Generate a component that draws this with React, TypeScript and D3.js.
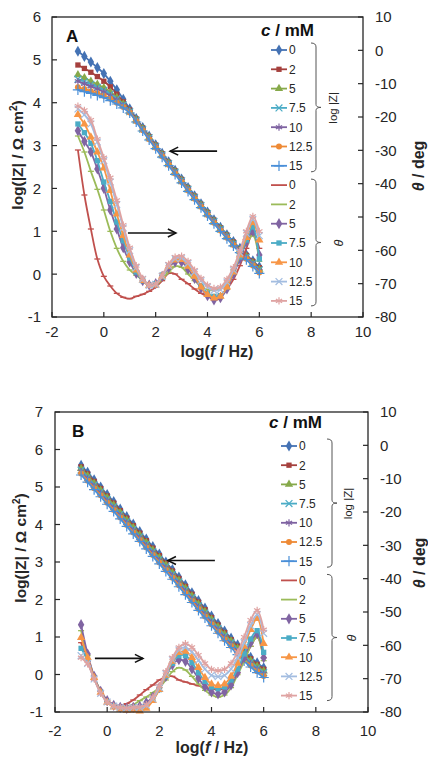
import React from 'react';
import * as d3 from 'd3';

// ---------- data ----------
const logF = [-1, -0.75, -0.5, -0.25, 0, 0.25, 0.5, 0.75, 1, 1.25, 1.5, 1.75, 2, 2.25, 2.5, 2.75, 3, 3.25, 3.5, 3.75, 4, 4.25, 4.5, 4.75, 5, 5.25, 5.5, 5.75, 6];
const concLabels = ['0', '2', '5', '7.5', '10', '12.5', '15'];
const leftTicksA = [-1, 0, 1, 2, 3, 4, 5, 6];
const leftTicksB = [-1, 0, 1, 2, 3, 4, 5, 6, 7];
const thetaTicks = [-80, -70, -60, -50, -40, -30, -20, -10, 0, 10];
const freqTicks = [-2, 0, 2, 4, 6, 8, 10];

// Panel A: log|Z| (log Ω cm²)
const zA0 = [5.2, 5.08, 4.95, 4.82, 4.68, 4.5, 4.3, 4.08, 3.86, 3.63, 3.42, 3.22, 3.02, 2.82, 2.62, 2.42, 2.22, 2.02, 1.83, 1.64, 1.45, 1.27, 1.09, 0.92, 0.76, 0.6, 0.45, 0.31, 0.17];
const zA2 = [4.88, 4.8, 4.71, 4.61, 4.5, 4.37, 4.2, 4.02, 3.83, 3.62, 3.41, 3.21, 3.01, 2.81, 2.61, 2.41, 2.21, 2.01, 1.82, 1.63, 1.44, 1.26, 1.08, 0.91, 0.75, 0.59, 0.44, 0.3, 0.15];
const zA5 = [4.65, 4.58, 4.5, 4.43, 4.35, 4.24, 4.12, 3.97, 3.8, 3.6, 3.39, 3.19, 2.99, 2.79, 2.59, 2.39, 2.19, 1.99, 1.8, 1.61, 1.42, 1.24, 1.06, 0.89, 0.72, 0.56, 0.41, 0.26, 0.11];
const zA7 = [4.55, 4.49, 4.43, 4.36, 4.29, 4.2, 4.09, 3.95, 3.79, 3.59, 3.38, 3.18, 2.98, 2.78, 2.58, 2.38, 2.18, 1.98, 1.79, 1.6, 1.41, 1.23, 1.05, 0.88, 0.71, 0.55, 0.4, 0.25, 0.1];
const zA10 = [4.5, 4.44, 4.38, 4.32, 4.25, 4.16, 4.06, 3.93, 3.78, 3.58, 3.37, 3.17, 2.97, 2.77, 2.57, 2.37, 2.17, 1.97, 1.78, 1.59, 1.4, 1.22, 1.04, 0.87, 0.7, 0.54, 0.38, 0.23, 0.07];
const zA12 = [4.36, 4.32, 4.27, 4.22, 4.16, 4.09, 4.0, 3.9, 3.77, 3.57, 3.36, 3.15, 2.95, 2.75, 2.55, 2.35, 2.15, 1.95, 1.76, 1.57, 1.38, 1.2, 1.02, 0.85, 0.68, 0.52, 0.36, 0.2, 0.04];
const zA15 = [4.3, 4.26, 4.22, 4.17, 4.12, 4.05, 3.97, 3.88, 3.76, 3.55, 3.34, 3.13, 2.93, 2.73, 2.53, 2.33, 2.13, 1.93, 1.74, 1.55, 1.36, 1.18, 1.0, 0.83, 0.66, 0.5, 0.34, 0.18, 0.02];

// Panel A: phase angle θ (deg)
const thA0 = [-29.9, -43.4, -53.6, -62.6, -67.8, -70.7, -72.9, -74.1, -74.5, -73.8, -73.2, -72.3, -71.0, -69.1, -66.9, -67.1, -68.7, -70.0, -71.6, -72.9, -73.8, -74.1, -73.3, -71.6, -68.7, -64.6, -59.4, -54.9, -59.4];
const thA2 = [-25.7, -30.5, -36.3, -41.7, -47.9, -54.3, -59.4, -63.3, -65.9, -67.5, -68.9, -70.2, -70.4, -68.7, -66.5, -64.8, -65.1, -67.1, -69.1, -70.7, -71.8, -72.0, -71.3, -69.1, -65.9, -62.0, -57.9, -55.6, -63.3];
const thA5 = [-24.1, -27.3, -30.5, -35.6, -41.4, -47.9, -53.6, -59.2, -63.5, -66.9, -69.1, -70.4, -70.0, -67.8, -65.2, -63.5, -63.5, -65.6, -68.4, -71.3, -73.6, -74.9, -74.2, -71.6, -67.1, -62.6, -57.5, -54.3, -61.4];
const thA7 = [-22.1, -24.7, -27.9, -33.1, -39.5, -45.3, -51.5, -57.1, -62.3, -66.5, -69.1, -70.5, -70.0, -67.4, -64.6, -62.5, -62.5, -64.6, -67.8, -70.7, -72.9, -73.8, -73.6, -71.0, -66.5, -62.0, -56.9, -53.0, -62.6];
const thA10 = [-19.3, -22.1, -26.0, -30.5, -35.3, -42.1, -49.1, -55.6, -61.4, -65.9, -69.1, -70.6, -70.4, -67.8, -64.8, -62.9, -62.8, -64.8, -67.8, -71.0, -73.3, -74.3, -73.8, -71.0, -66.5, -61.4, -56.2, -51.7, -56.9];
const thA12 = [-17.6, -19.3, -22.1, -27.5, -33.1, -39.5, -46.3, -53.3, -60.1, -65.2, -68.7, -70.5, -70.2, -67.8, -64.6, -62.5, -62.3, -63.9, -66.5, -69.1, -71.0, -72.0, -71.8, -69.5, -65.9, -60.7, -54.9, -50.7, -55.6];
const thA15 = [-16.7, -18.0, -20.9, -26.6, -32.2, -38.2, -45.0, -52.4, -59.2, -64.6, -68.4, -70.4, -70.1, -67.4, -64.1, -62.0, -61.7, -63.3, -65.9, -68.4, -70.4, -71.4, -71.0, -68.7, -65.2, -60.1, -54.3, -49.8, -54.3];

// Panel B: log|Z|
const zB0 = [5.58, 5.39, 5.19, 5.0, 4.8, 4.61, 4.41, 4.21, 4.01, 3.81, 3.61, 3.41, 3.21, 3.0, 2.8, 2.6, 2.39, 2.18, 1.97, 1.77, 1.56, 1.36, 1.16, 0.97, 0.79, 0.62, 0.46, 0.31, 0.18];
const zB2 = [5.54, 5.35, 5.15, 4.96, 4.76, 4.57, 4.37, 4.17, 3.97, 3.77, 3.57, 3.37, 3.17, 2.97, 2.76, 2.56, 2.35, 2.14, 1.93, 1.73, 1.52, 1.32, 1.12, 0.93, 0.75, 0.58, 0.42, 0.27, 0.14];
const zB5 = [5.49, 5.3, 5.1, 4.91, 4.71, 4.52, 4.32, 4.12, 3.92, 3.72, 3.52, 3.32, 3.12, 2.92, 2.71, 2.51, 2.3, 2.09, 1.88, 1.68, 1.47, 1.27, 1.07, 0.89, 0.7, 0.53, 0.37, 0.22, 0.09];
const zB7 = [5.45, 5.26, 5.06, 4.87, 4.67, 4.48, 4.28, 4.08, 3.88, 3.68, 3.48, 3.28, 3.08, 2.88, 2.67, 2.47, 2.26, 2.05, 1.84, 1.64, 1.43, 1.23, 1.03, 0.85, 0.66, 0.49, 0.33, 0.18, 0.05];
const zB10 = [5.41, 5.22, 5.02, 4.83, 4.63, 4.44, 4.24, 4.04, 3.84, 3.64, 3.44, 3.24, 3.04, 2.84, 2.63, 2.43, 2.22, 2.01, 1.8, 1.6, 1.39, 1.19, 0.99, 0.81, 0.62, 0.45, 0.29, 0.14, 0.01];
const zB12 = [5.36, 5.17, 4.97, 4.78, 4.58, 4.39, 4.19, 3.99, 3.79, 3.59, 3.39, 3.19, 2.99, 2.79, 2.58, 2.38, 2.17, 1.96, 1.75, 1.55, 1.34, 1.14, 0.94, 0.76, 0.57, 0.4, 0.24, 0.09, -0.04];
const zB15 = [5.32, 5.13, 4.93, 4.74, 4.54, 4.35, 4.15, 3.95, 3.75, 3.55, 3.35, 3.15, 2.95, 2.75, 2.54, 2.34, 2.13, 1.92, 1.71, 1.51, 1.3, 1.1, 0.9, 0.72, 0.53, 0.36, 0.2, 0.05, -0.08];

// Panel B: θ (deg)
const thB0 = [-59.2, -64.8, -69.9, -73.8, -76.4, -77.8, -78.1, -77.5, -76.4, -74.9, -73.3, -71.9, -70.4, -69.5, -69.3, -70.4, -71.0, -71.6, -72.1, -72.7, -73.0, -73.3, -73.0, -71.6, -68.2, -64.3, -60.3, -57.5, -63.7];
const thB2 = [-55.6, -63.1, -69.3, -73.8, -76.6, -78.0, -78.4, -78.3, -77.8, -76.6, -75.5, -74.2, -72.7, -70.4, -67.9, -66.7, -67.4, -69.3, -71.6, -73.5, -74.9, -75.5, -74.9, -72.7, -68.8, -64.8, -60.3, -57.5, -64.6];
const thB5 = [-53.8, -62.6, -69.3, -73.8, -76.6, -78.0, -78.6, -78.9, -78.6, -78.3, -77.2, -75.5, -72.7, -69.3, -65.9, -64.3, -64.8, -67.1, -69.9, -72.4, -74.0, -74.6, -74.0, -71.9, -68.2, -63.7, -59.2, -56.5, -63.7];
const thB7 = [-60.9, -64.5, -69.9, -74.1, -76.9, -78.2, -78.9, -79.1, -78.9, -79.1, -78.3, -76.4, -73.3, -69.3, -65.4, -63.1, -63.1, -65.2, -68.2, -70.8, -72.5, -73.0, -72.5, -70.4, -67.1, -62.6, -58.1, -55.6, -62.1];
const thB10 = [-57.7, -63.7, -69.7, -74.1, -77.1, -78.5, -79.2, -79.5, -79.4, -79.7, -78.9, -76.6, -73.3, -69.0, -64.8, -62.2, -61.8, -63.7, -66.7, -69.7, -71.6, -72.1, -71.6, -69.3, -65.4, -60.3, -55.3, -52.0, -59.5];
const thB12 = [-63.1, -65.4, -70.1, -74.4, -77.0, -78.2, -78.6, -78.9, -78.6, -78.6, -78.0, -76.1, -72.7, -68.5, -64.3, -61.4, -60.6, -62.0, -64.5, -67.1, -69.0, -69.4, -69.0, -67.1, -63.7, -59.2, -54.1, -50.8, -56.4];
const thB15 = [-63.7, -65.6, -70.1, -74.4, -77.0, -78.2, -78.6, -78.8, -78.6, -78.5, -77.8, -75.5, -72.1, -67.9, -63.7, -60.6, -59.5, -60.6, -62.9, -65.4, -67.2, -67.6, -67.2, -65.4, -62.0, -57.5, -52.4, -49.5, -55.3];

// ---------- styles ----------
const zStyles = [
  { color: '#4472B4', shape: 'diamond' },
  { color: '#A5403D', shape: 'square' },
  { color: '#86A94A', shape: 'triangle' },
  { color: '#4BACC6', shape: 'times' },
  { color: '#7E62A1', shape: 'asterisk' },
  { color: '#EE8A35', shape: 'circle' },
  { color: '#4A8FD8', shape: 'plus' },
];
const tStyles = [
  { color: '#C0504D', shape: 'dash' },
  { color: '#9BBB59', shape: 'dash' },
  { color: '#8064A2', shape: 'diamond' },
  { color: '#4BACC6', shape: 'square' },
  { color: '#F79646', shape: 'triangle' },
  { color: '#A3BDE0', shape: 'times' },
  { color: '#DFA3A2', shape: 'asterisk' },
];

const FONT = '"Liberation Sans", Arial, Helvetica, sans-serif';
const INK = '#262626';

const filledShapes: Record<string, any> = {
  diamond: [d3.symbolDiamond, 36],
  square: [d3.symbolSquare, 28],
  triangle: [d3.symbolTriangle, 30],
  circle: [d3.symbolCircle, 28],
};
const strokeShapes: Record<string, any> = {
  times: [d3.symbolTimes, 32],
  asterisk: [d3.symbolAsterisk, 36],
  plus: [d3.symbolPlus, 36],
};

function Marker({ shape, color, x, y }: { shape: string; color: string; x: number; y: number }) {
  if (shape === 'dash') {
    return <path d={`M${x - 3},${y}H${x + 3}`} stroke={color} strokeWidth={1.3} />;
  }
  if (filledShapes[shape]) {
    const [t, s] = filledShapes[shape];
    return <path d={d3.symbol(t, s)() as string} transform={`translate(${x},${y})`} fill={color} />;
  }
  const [t, s] = strokeShapes[shape];
  return <path d={d3.symbol(t, s)() as string} transform={`translate(${x},${y})`} fill="none" stroke={color} strokeWidth={1.2} />;
}

function Series({ values, style, xs, ys }: any) {
  const line = d3.line<number>()
    .x((_, i) => xs(logF[i]))
    .y((d) => ys(d))
    .curve(d3.curveCatmullRom.alpha(0.5));
  return (
    <g>
      <path d={line(values) as string} fill="none" stroke={style.color} strokeWidth={1.8} />
      {values.map((v: number, i: number) => (
        <Marker key={i} shape={style.shape} color={style.color} x={xs(logF[i])} y={ys(v)} />
      ))}
    </g>
  );
}

function Arrow({ x1, x2, y }: { x1: number; x2: number; y: number }) {
  const dir = x2 > x1 ? -1 : 1;
  return (
    <g stroke="#111" strokeWidth={1.6} fill="none">
      <line x1={x1} y1={y} x2={x2} y2={y} />
      <path d={`M${x2 + dir * 8},${y - 4}L${x2},${y}L${x2 + dir * 8},${y + 4}`} />
    </g>
  );
}

function Brace({ x, top, bottom }: { x: number; top: number; bottom: number }) {
  const mid = (top + bottom) / 2;
  const d = `M${x - 5},${top}Q${x},${top} ${x},${top + 4}L${x},${mid - 3}Q${x},${mid} ${x + 5},${mid}Q${x},${mid} ${x},${mid + 3}L${x},${bottom - 4}Q${x},${bottom} ${x - 5},${bottom}`;
  return <path d={d} fill="none" stroke="#555" strokeWidth={1} />;
}

function Panel({ cfg }: { cfg: any }) {
  const xs = d3.scaleLinear().domain([-2, 10]).range([cfg.x0, cfg.x1]);
  const yL = d3.scaleLinear().domain(cfg.yDomain).range([cfg.y1, cfg.y0]);
  const yR = d3.scaleLinear().domain([-80, 10]).range([cfg.y1, cfg.y0]);
  const lg = cfg.legend;
  const rowY = (i: number) => lg.rowY0 + i * lg.rowStep;
  const lx0 = lg.lineX0, lx1 = lg.lineX1;

  return (
    <g fontFamily={FONT}>
      {cfg.z.map((vals: number[], i: number) => (
        <Series key={'z' + i} values={vals} style={zStyles[i]} xs={xs} ys={yL} />
      ))}
      {cfg.th.map((vals: number[], i: number) => (
        <Series key={'t' + i} values={vals} style={tStyles[i]} xs={xs} ys={yR} />
      ))}

      <rect x={cfg.x0} y={cfg.y0} width={cfg.x1 - cfg.x0} height={cfg.y1 - cfg.y0} fill="none" stroke={INK} strokeWidth={1.3} />

      {cfg.leftTicks.map((t: number) => (
        <g key={'l' + t}>
          <line x1={cfg.x0} x2={cfg.x0 + 5} y1={yL(t)} y2={yL(t)} stroke={INK} strokeWidth={1.2} />
          <text x={cfg.leftLabelX} y={yL(t)} dy="0.36em" textAnchor="end" fontSize={15} fill={INK}>{t}</text>
        </g>
      ))}
      {thetaTicks.map((t) => (
        <g key={'r' + t}>
          <line x1={cfg.x1 - 5} x2={cfg.x1} y1={yR(t)} y2={yR(t)} stroke={INK} strokeWidth={1.2} />
          <text x={cfg.rightLabelX} y={yR(t)} dy="0.36em" textAnchor="start" fontSize={15} fill={INK}>{t}</text>
        </g>
      ))}
      {freqTicks.map((t) => (
        <g key={'x' + t}>
          <line x1={xs(t)} x2={xs(t)} y1={cfg.y1} y2={cfg.y1 - 5} stroke={INK} strokeWidth={1.2} />
          <text x={xs(t)} y={cfg.xLabelY} textAnchor="middle" fontSize={15} fill={INK}>{t}</text>
        </g>
      ))}

      <text x={cfg.xTitleX} y={cfg.xTitleY} textAnchor="middle" fontSize={16} fontWeight="bold" fill={INK}>
        log(<tspan fontStyle="italic">f</tspan> / Hz)
      </text>
      <text transform={`translate(${cfg.leftTitleX},${cfg.leftTitleY}) rotate(-90)`} textAnchor="middle" fontSize={15.5} fontWeight="bold" fill={INK}>
        log(|Z| / Ω cm<tspan dy={-6} fontSize={10}>2</tspan><tspan dy={6}>)</tspan>
      </text>
      <text transform={`translate(${cfg.rightTitleX},${cfg.rightTitleY}) rotate(-90)`} textAnchor="middle" fontSize={16} fontWeight="bold" fill={INK}>
        <tspan fontStyle="italic">θ</tspan> / deg
      </text>

      <text x={cfg.letterX} y={cfg.letterY} fontSize={17} fontWeight="bold" fill="#111">{cfg.letter}</text>

      {cfg.arrows.map((a: any, i: number) => (
        <Arrow key={i} x1={xs(a.from)} x2={xs(a.to)} y={yL(a.at)} />
      ))}

      <text x={lg.titleX} y={lg.titleY} fontSize={17} fontWeight="bold" fill="#111">
        <tspan fontStyle="italic">c</tspan> / mM
      </text>
      {concLabels.map((c, i) => (
        <g key={'lz' + i}>
          <line x1={lx0} x2={lx1} y1={rowY(i)} y2={rowY(i)} stroke={zStyles[i].color} strokeWidth={1.8} />
          <Marker shape={zStyles[i].shape} color={zStyles[i].color} x={(lx0 + lx1) / 2} y={rowY(i)} />
          <text x={lg.textX} y={rowY(i)} dy="0.36em" fontSize={12} fill={INK}>{c}</text>
        </g>
      ))}
      {concLabels.map((c, i) => (
        <g key={'lt' + i}>
          <line x1={lx0} x2={lx1} y1={rowY(i + 7)} y2={rowY(i + 7)} stroke={tStyles[i].color} strokeWidth={1.8} />
          {tStyles[i].shape !== 'dash' && (
            <Marker shape={tStyles[i].shape} color={tStyles[i].color} x={(lx0 + lx1) / 2} y={rowY(i + 7)} />
          )}
          <text x={lg.textX} y={rowY(i + 7)} dy="0.36em" fontSize={12} fill={INK}>{c}</text>
        </g>
      ))}
      <Brace x={lg.braceX} top={rowY(0) - 7} bottom={rowY(6) + 6} />
      <Brace x={lg.braceX} top={rowY(7) - 6} bottom={rowY(13) + 5} />
      <text transform={`translate(${lg.labelZX},${(rowY(0) + rowY(6)) / 2}) rotate(-90)`} textAnchor="middle" fontSize={11.5} fill={INK}>log |Z|</text>
      <text transform={`translate(${lg.labelTX},${(rowY(7) + rowY(13)) / 2}) rotate(-90)`} textAnchor="middle" fontSize={12.5} fontStyle="italic" fill={INK}>θ</text>
    </g>
  );
}

const panelA = {
  x0: 52, x1: 363, y0: 17, y1: 317, yDomain: [-1, 6], leftTicks: leftTicksA,
  leftLabelX: 41, rightLabelX: 375, xLabelY: 337, xTitleX: 217, xTitleY: 357,
  leftTitleX: 23, leftTitleY: 155, rightTitleX: 424, rightTitleY: 166,
  letter: 'A', letterX: 66, letterY: 42,
  z: [zA0, zA2, zA5, zA7, zA10, zA12, zA15],
  th: [thA0, thA2, thA5, thA7, thA10, thA12, thA15],
  arrows: [{ from: 4.37, to: 2.56, at: 2.87 }, { from: 0.93, to: 2.78, at: 0.96 }],
  legend: { titleX: 261, titleY: 36, lineX0: 271, lineX1: 287, textX: 289, rowY0: 50, rowStep: 19.3, braceX: 316, labelZX: 337, labelTX: 343 },
};

const panelB = {
  x0: 55, x1: 368, y0: 412, y1: 712, yDomain: [-1, 7], leftTicks: leftTicksB,
  leftLabelX: 43, rightLabelX: 380, xLabelY: 736, xTitleX: 212, xTitleY: 753,
  leftTitleX: 26, leftTitleY: 548, rightTitleX: 425, rightTitleY: 563,
  letter: 'B', letterX: 72, letterY: 437,
  z: [zB0, zB2, zB5, zB7, zB10, zB12, zB15],
  th: [thB0, thB2, thB5, thB7, thB10, thB12, thB15],
  arrows: [{ from: 4.13, to: 2.33, at: 3.04 }, { from: -0.47, to: 1.37, at: 0.43 }],
  legend: { titleX: 269, titleY: 428, lineX0: 281, lineX1: 297, textX: 299, rowY0: 446, rowStep: 19.2, braceX: 332, labelZX: 352, labelTX: 356 },
};

export default function App() {
  return (
    <svg width={428} height={758} viewBox="0 0 428 758" style={{ position: 'absolute', left: 0, top: 0, background: '#fff' }}>
      <rect width={428} height={758} fill="#fff" />
      <Panel cfg={panelA} />
      <Panel cfg={panelB} />
    </svg>
  );
}
